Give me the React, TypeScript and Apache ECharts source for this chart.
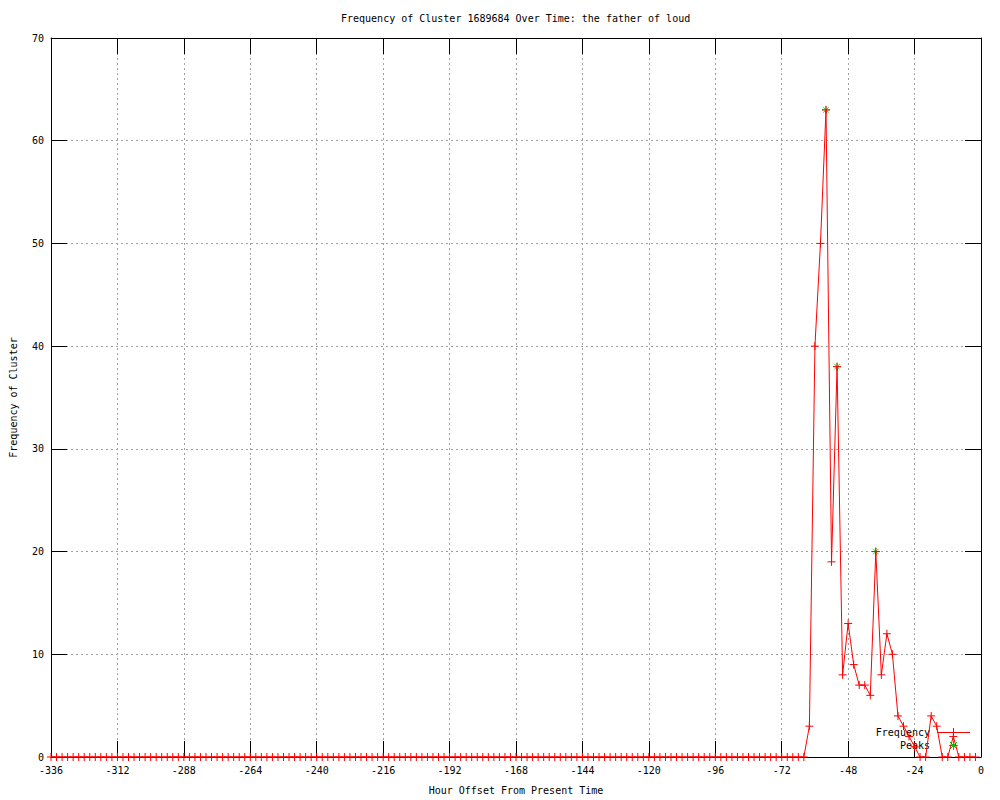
import React, { useEffect, useRef } from "react";
import * as echarts from "echarts";

const TITLE = "Frequency of Cluster 1689684 Over Time: the father of loud";
const X_NAME = "Hour Offset From Present Time";
const Y_NAME = "Frequency of Cluster";
const SERIES_FREQ = "Frequency";
const SERIES_PEAKS = "Peaks";

// hour offsets of each sample (every 2 hours)
const hours = [
  -336, -334, -332, -330, -328, -326, -324, -322, -320, -318, -316, -314,
  -312, -310, -308, -306, -304, -302, -300, -298, -296, -294, -292, -290,
  -288, -286, -284, -282, -280, -278, -276, -274, -272, -270, -268, -266,
  -264, -262, -260, -258, -256, -254, -252, -250, -248, -246, -244, -242,
  -240, -238, -236, -234, -232, -230, -228, -226, -224, -222, -220, -218,
  -216, -214, -212, -210, -208, -206, -204, -202, -200, -198, -196, -194,
  -192, -190, -188, -186, -184, -182, -180, -178, -176, -174, -172, -170,
  -168, -166, -164, -162, -160, -158, -156, -154, -152, -150, -148, -146,
  -144, -142, -140, -138, -136, -134, -132, -130, -128, -126, -124, -122,
  -120, -118, -116, -114, -112, -110, -108, -106, -104, -102, -100, -98,
  -96, -94, -92, -90, -88, -86, -84, -82, -80, -78, -76, -74,
  -72, -70, -68, -66, -64, -62, -60, -58, -56, -54, -52, -50,
  -48, -46, -44, -42, -40, -38, -36, -34, -32, -30, -28, -26,
  -24, -22, -20, -18, -16, -14, -12, -10, -8, -6, -4, -2,
];

const frequency = [
  0, 0, 0, 0, 0, 0, 0, 0, 0, 0, 0, 0,
  0, 0, 0, 0, 0, 0, 0, 0, 0, 0, 0, 0,
  0, 0, 0, 0, 0, 0, 0, 0, 0, 0, 0, 0,
  0, 0, 0, 0, 0, 0, 0, 0, 0, 0, 0, 0,
  0, 0, 0, 0, 0, 0, 0, 0, 0, 0, 0, 0,
  0, 0, 0, 0, 0, 0, 0, 0, 0, 0, 0, 0,
  0, 0, 0, 0, 0, 0, 0, 0, 0, 0, 0, 0,
  0, 0, 0, 0, 0, 0, 0, 0, 0, 0, 0, 0,
  0, 0, 0, 0, 0, 0, 0, 0, 0, 0, 0, 0,
  0, 0, 0, 0, 0, 0, 0, 0, 0, 0, 0, 0,
  0, 0, 0, 0, 0, 0, 0, 0, 0, 0, 0, 0,
  0, 0, 0, 0, 0, 3, 40, 50, 63, 19, 38, 8,
  13, 9, 7, 7, 6, 20, 8, 12, 10, 4, 3, 2,
  1, 0, 0, 4, 3, 0, 0, 2, 0, 0, 0, 0,
];

const peakHours = [-56, -52, -38];
const peakValues = [63, 38, 20];

const FONT = "DejaVu Sans Mono";
const RED = "#ff0000";
const GREEN = "#00c000";
const PLUS = "path://M5,0L5,10M0,5L10,5";
const STAR = "path://M5,0L5,10M0,5L10,5M1.5,1.5L8.5,8.5M8.5,1.5L1.5,8.5";

export default function App() {
  const ref = useRef<HTMLDivElement>(null);

  useEffect(() => {
    if (!ref.current) return;
    const chart = echarts.init(ref.current, undefined, { renderer: "svg" });

    const axisCommon = {
      axisLine: { onZero: false, lineStyle: { color: "#000", width: 1 } },
      axisTick: { inside: true, length: 16, lineStyle: { color: "#000", width: 1 } },
    };
    const gridLine = { show: true, lineStyle: { color: "#a0a0a0", width: 1, type: [2, 3] } };

    const seg = (x1: number, y1: number, x2: number, y2: number, color: string) => ({
      type: "line",
      shape: { x1, y1, x2, y2 },
      style: { stroke: color, lineWidth: 1 },
      silent: true,
    });

    // key (legend) drawn in gnuplot style: text on the left, sample on the right
    const kx = 953;
    const ky1 = 732;
    const ky2 = 745;
    const legendGraphic = [
      {
        type: "text",
        right: 1000 - 930,
        top: ky1 - 5,
        style: { text: SERIES_FREQ, fill: "#000", font: `10px '${FONT}'`, textAlign: "right" },
      },
      {
        type: "text",
        right: 1000 - 930,
        top: ky2 - 5,
        style: { text: SERIES_PEAKS, fill: "#000", font: `10px '${FONT}'`, textAlign: "right" },
      },
      seg(937, ky1 + 0.5, 970, ky1 + 0.5, RED),
      seg(kx + 0.5, ky1 - 4, kx + 0.5, ky1 + 5, RED),
      seg(kx - 4, ky1 + 0.5, kx + 5, ky1 + 0.5, RED),
      seg(kx + 0.5, ky2 - 4, kx + 0.5, ky2 + 5, GREEN),
      seg(kx - 4, ky2 + 0.5, kx + 5, ky2 + 0.5, GREEN),
      seg(kx - 3, ky2 - 3, kx + 4, ky2 + 4, GREEN),
      seg(kx + 4, ky2 - 3, kx - 3, ky2 + 4, GREEN),
    ];

    const option = {
      animation: false,
      backgroundColor: "#ffffff",
      textStyle: { fontFamily: FONT },
      title: {
        text: TITLE,
        left: 341,
        top: 13,
        padding: 0,
        textStyle: { fontFamily: FONT, fontSize: 10, fontWeight: "normal", color: "#000" },
      },
      graphic: legendGraphic,
      grid: { left: 49, right: 19, top: 38, bottom: 40 },
      xAxis: [
        {
          type: "value",
          min: -336,
          max: 0,
          interval: 24,
          position: "bottom",
          ...axisCommon,
          axisLabel: { fontFamily: FONT, fontSize: 10, color: "#000", margin: 8 },
          splitLine: gridLine,
          name: X_NAME,
          nameLocation: "middle",
          nameGap: 28,
          nameTextStyle: { fontFamily: FONT, fontSize: 10, color: "#000" },
        },
        {
          type: "value",
          min: -336,
          max: 0,
          interval: 24,
          position: "top",
          ...axisCommon,
          axisLabel: { show: false },
          splitLine: { show: false },
        },
      ],
      yAxis: [
        {
          type: "value",
          min: 0,
          max: 70,
          interval: 10,
          position: "left",
          ...axisCommon,
          axisLabel: { fontFamily: FONT, fontSize: 10, color: "#000", margin: 7 },
          splitLine: gridLine,
          name: Y_NAME,
          nameLocation: "middle",
          nameRotate: 90,
          nameGap: 33,
          nameTextStyle: { fontFamily: FONT, fontSize: 10, color: "#000" },
        },
        {
          type: "value",
          min: 0,
          max: 70,
          interval: 10,
          position: "right",
          ...axisCommon,
          axisLabel: { show: false },
          splitLine: { show: false },
        },
      ],
      series: [
        {
          name: SERIES_PEAKS,
          type: "scatter",
          xAxisIndex: 0,
          yAxisIndex: 0,
          data: peakHours.map((h, i) => [h, peakValues[i]]),
          symbol: STAR,
          symbolSize: 8,
          itemStyle: { color: GREEN, borderColor: GREEN, borderWidth: 1 },
          z: 2,
        },
        {
          name: SERIES_FREQ,
          type: "line",
          xAxisIndex: 0,
          yAxisIndex: 0,
          data: hours.map((h, i) => [h, frequency[i]]),
          symbol: PLUS,
          symbolSize: 8,
          showSymbol: true,
          showAllSymbol: true,
          lineStyle: { color: RED, width: 1 },
          itemStyle: { color: RED, borderColor: RED, borderWidth: 1 },
          z: 3,
        },
      ],
    };

    chart.setOption(option as any);
    return () => {
      chart.dispose();
    };
  }, []);

  return (
    <div
      ref={ref}
      style={{ position: "fixed", left: 0, top: 0, width: 1000, height: 800, background: "#fff" }}
    />
  );
}
